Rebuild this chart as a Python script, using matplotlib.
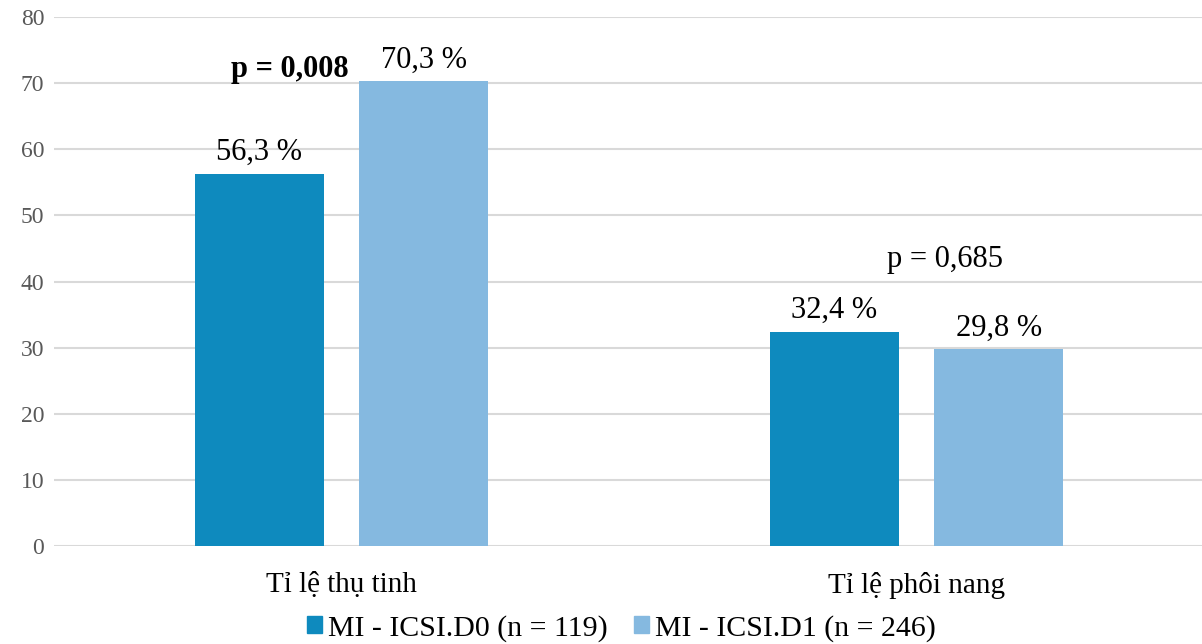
import numpy as np
import matplotlib
matplotlib.use('Agg')
import matplotlib.pyplot as plt
from matplotlib.patches import Patch

plt.rcParams['font.family'] = ['Liberation Serif', 'DejaVu Serif']

categories = ["Tỉ lệ thụ tinh", "Tỉ lệ phôi nang"]
series_names = ["MI - ICSI.D0 (n = 119)", "MI - ICSI.D1 (n = 246)"]
d0_values = [56.3, 32.4]
d1_values = [70.3, 29.8]
p_labels = ["p = 0,008", "p = 0,685"]
p_bold = [True, False]
p_pos = [(-0.09, 72.0), (1.05, 43.3)]

colors = ["#0E8ABE", "#85B9E0"]

fig = plt.figure(figsize=(12.02, 6.44), dpi=100)
ax = fig.add_axes([54 / 1202, 1 - 546 / 644, 1150 / 1202, 529 / 644])

x = np.arange(len(categories))
w = 0.225
off = 0.143
ax.bar(x - off, d0_values, width=w, color=colors[0], zorder=3)
ax.bar(x + off, d1_values, width=w, color=colors[1], zorder=3)

for xi, v in zip(x - off, d0_values):
    ax.text(xi, v + 1.0, f"{v:.1f} %".replace(".", ","), ha='center', va='bottom',
            fontsize=22, color='black', zorder=4)
for xi, v in zip(x + off, d1_values):
    ax.text(xi, v + 1.0, f"{v:.1f} %".replace(".", ","), ha='center', va='bottom',
            fontsize=22, color='black', zorder=4)

for lbl, bold, (px, py) in zip(p_labels, p_bold, p_pos):
    ax.text(px, py, lbl, ha='center', va='center', fontsize=22,
            fontweight='bold' if bold else 'normal', zorder=4)

ax.set_xlim(-0.5, 1.5)
ax.set_ylim(0, 80)
ax.set_yticks(np.arange(0, 81, 10))
ax.set_xticks(x)
ax.set_xticklabels(categories, fontsize=21)
ax.tick_params(axis='x', length=0, pad=19)
ax.tick_params(axis='y', length=0, labelsize=17, labelcolor='#595959', pad=7)
ax.grid(axis='y', color='#D9D9D9', linewidth=1.5, zorder=0)
for s in ax.spines.values():
    s.set_visible(False)

handles = [Patch(color=c, label=n) for c, n in zip(colors, series_names)]
fig.legend(handles=handles, loc='lower center', bbox_to_anchor=(0.517, -0.038), ncol=2,
           frameon=False, fontsize=21.5, handlelength=0.5, handleheight=0.5,
           handletextpad=0.2, columnspacing=0.9)

fig.savefig("out.png", dpi=100)
